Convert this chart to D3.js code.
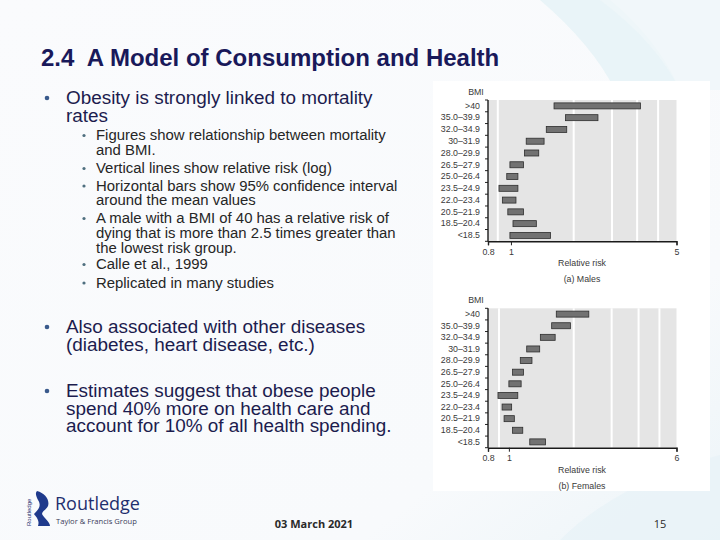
<!DOCTYPE html>
<html>
<head>
<meta charset="utf-8">
<script src="https://cdn.jsdelivr.net/npm/d3@7/dist/d3.min.js"></script>
<style>
  html, body { margin: 0; padding: 0; background: #f8fafc; }
  svg { display: block; }
  text { font-family: "Liberation Sans", Arial, sans-serif; white-space: pre; }
</style>
</head>
<body>
<script>
// ---------- data ----------
const categories = [">40", "35.0–39.9", "32.0–34.9", "30–31.9", "28.0–29.9", "26.5–27.9",
  "25.0–26.4", "23.5–24.9", "22.0–23.4", "20.5–21.9", "18.5–20.4", "<18.5"];
const maleLow  = [1.52, 1.70, 1.41, 1.16, 1.14, 0.99, 0.96, 0.89, 0.92, 0.97, 1.02, 0.99];
const maleHigh = [3.52, 2.33, 1.72, 1.38, 1.31, 1.13, 1.07, 1.07, 1.05, 1.13, 1.28, 1.47];
const femaleLow  = [1.66, 1.58, 1.40, 1.21, 1.13, 1.04, 1.00, 0.89, 0.93, 0.95, 1.04, 1.25];
const femaleHigh = [2.35, 1.93, 1.64, 1.39, 1.28, 1.17, 1.14, 1.10, 1.03, 1.06, 1.16, 1.48];
const maleTicks = [0.8, 1, 5];
const femaleTicks = [0.8, 1, 6];
const maleGrid = [0.88, 1.84, 2.67, 3.41, 4.18];
const femaleGrid = [0.9, 2, 3, 4, 5];
const maleDomain = [0.8, 5];
const femaleDomain = [0.8, 6];

const title = "2.4  A Model of Consumption and Health";
const subBullets = [
  ["Figures show relationship between mortality", "and BMI."],
  ["Vertical lines show relative risk (log)"],
  ["Horizontal bars show 95% confidence interval", "around the mean values"],
  ["A male with a BMI of 40 has a relative risk of", "dying that is more than 2.5 times greater than", "the lowest risk group."],
  ["Calle et al., 1999"],
  ["Replicated in many studies"]
];

// ---------- svg ----------
const W = 720, H = 540;
const svg = d3.select("body").append("svg").attr("width", W).attr("height", H);

const defs = svg.append("defs");
const bg = defs.append("linearGradient").attr("id", "bg").attr("x1", 0).attr("y1", 0).attr("x2", 1).attr("y2", 1);
bg.append("stop").attr("offset", "0%").attr("stop-color", "#fafbfd");
bg.append("stop").attr("offset", "75%").attr("stop-color", "#f8fafc");
bg.append("stop").attr("offset", "100%").attr("stop-color", "#ecf4f8");
svg.append("rect").attr("width", W).attr("height", H).attr("fill", "url(#bg)");

// faint swooshes
svg.append("path").attr("d", "M540,0 C575,30 600,60 615,90 L680,90 C665,55 640,25 610,0 Z")
  .attr("fill", "#e5f2f6").attr("opacity", 0.8);
svg.append("path").attr("d", "M600,0 C640,30 665,60 680,90 L720,90 L720,0 Z")
  .attr("fill", "#eff6f9").attr("opacity", 0.8);
svg.append("path").attr("d", "M560,540 C600,500 660,470 720,455 L720,540 Z")
  .attr("fill", "#e8f3f7").attr("opacity", 0.8);

// ---------- title & text ----------
svg.append("text").attr("x", 41).attr("y", 66).text(title)
  .attr("font-size", 24).attr("font-weight", "bold").attr("fill", "#19195a");

function block(x, y, lines, lh, size, fill) {
  const t = svg.append("text").attr("x", x).attr("y", y).attr("font-size", size).attr("fill", fill);
  lines.forEach((l, i) => t.append("tspan").attr("x", x).attr("y", y + i * lh).text(l));
}

function mainBullet(y, lines) {
  svg.append("circle").attr("cx", 47).attr("cy", y - 6).attr("r", 2.3).attr("fill", "#3a5a8c");
  block(66, y, lines, 17.6, 18.9, "#1c1c4e");
}
mainBullet(104, ["Obesity is strongly linked to mortality", "rates"]);
mainBullet(333, ["Also associated with other diseases", "(diabetes, heart disease, etc.)"]);
mainBullet(397, ["Estimates suggest that obese people", "spend 40% more on health care and", "account for 10% of all health spending."]);

const subY = [140, 173, 190.5, 223, 269, 287.5];
subBullets.forEach((lines, k) => {
  svg.append("circle").attr("cx", 84).attr("cy", subY[k] - 4.5).attr("r", 1.6).attr("fill", "#4f6f7f");
  block(96, subY[k], lines, 14.8, 14.9, "#262626");
});

// ---------- footer ----------
svg.append("text").attr("x", 314).attr("y", 528).attr("text-anchor", "middle").text("03 March 2021")
  .attr("font-size", 11).attr("font-weight", "bold").attr("fill", "#2a2a2a")
  .style("font-family", "'Open Sans', 'Liberation Sans', sans-serif");
svg.append("text").attr("x", 660).attr("y", 528).attr("text-anchor", "middle").text("15")
  .attr("font-size", 11).attr("fill", "#2a2a2a")
  .style("font-family", "'Open Sans', 'Liberation Sans', sans-serif");

// logo
const logo = svg.append("g");
logo.append("path").attr("d", "M37,491 C45,493 50,500 48,506 C46,510 42,511 42,514 C44,518 50,522 50,526 L38,526 C40,520 36,517 34,514 C38,510 42,506 38,500 C36,496 35,493 37,491 Z")
  .attr("fill", "#1f3a8c");
logo.append("text").attr("transform", "translate(31,526) rotate(-90)").text("Routledge")
  .attr("font-size", 6).attr("fill", "#1f2f6f");
logo.append("text").attr("x", 55).attr("y", 510).text("Routledge")
  .attr("font-size", 18).attr("fill", "#1f2f6e")
  .style("font-family", "'Open Sans', 'Liberation Sans', sans-serif");
logo.append("text").attr("x", 56).attr("y", 524).text("Taylor & Francis Group")
  .attr("font-size", 7.6).attr("fill", "#3a3a5a")
  .style("font-family", "'Open Sans', 'Liberation Sans', sans-serif");

// ---------- chart panel ----------
svg.append("rect").attr("x", 433).attr("y", 81).attr("width", 277).attr("height", 410).attr("fill", "#ffffff");

function drawPanel(opts) {
  const g = svg.append("g");
  const x = d3.scaleLog().domain(opts.domain).range([488, 676.5]);
  const y = d3.scaleBand().domain(categories).range([opts.top, opts.bottom]);
  const data = categories.map((c, i) => ({ c, lo: opts.low[i], hi: opts.high[i] }));

  g.append("rect").attr("x", x.range()[0]).attr("y", opts.top)
    .attr("width", x.range()[1] - x.range()[0]).attr("height", opts.bottom - opts.top)
    .attr("fill", "#e5e5e5");

  g.selectAll(".grid").data(opts.grid).join("line")
    .attr("x1", d => x(d)).attr("x2", d => x(d))
    .attr("y1", opts.top).attr("y2", opts.bottom)
    .attr("stroke", "#ffffff").attr("stroke-width", 2);

  g.selectAll(".bar").data(data).join("rect")
    .attr("x", d => x(d.lo)).attr("width", d => x(d.hi) - x(d.lo))
    .attr("y", d => y(d.c) + y.bandwidth() / 2 - 3).attr("height", 6)
    .attr("fill", "#727272").attr("stroke", "#2e2e2e").attr("stroke-width", 0.8);

  // left axis: labels
  const yAxis = g.append("g").attr("transform", `translate(${x.range()[0]},0)`)
    .call(d3.axisLeft(y).tickSize(0).tickPadding(8));
  yAxis.select(".domain").remove();
  yAxis.selectAll("text").attr("font-size", 8.8).attr("fill", "#3a3a3a")
    .style("font-family", "'Liberation Sans', Arial, sans-serif");
  // boundary ticks
  const bounds = categories.map(c => y(c)).concat([opts.bottom]);
  g.selectAll(".bt").data(bounds).join("line")
    .attr("x1", x.range()[0] - 3).attr("x2", x.range()[0])
    .attr("y1", d => d).attr("y2", d => d).attr("stroke", "#222").attr("stroke-width", 1);
  g.append("line").attr("x1", x.range()[0]).attr("x2", x.range()[0])
    .attr("y1", opts.top).attr("y2", opts.bottom).attr("stroke", "#1a1a1a").attr("stroke-width", 1.4);

  // bottom axis
  const xAxis = g.append("g").attr("transform", `translate(0,${opts.bottom})`)
    .call(d3.axisBottom(x).tickValues(opts.ticks).tickFormat(d3.format("")).tickSize(4).tickPadding(3));
  xAxis.select(".domain").attr("stroke", "#1a1a1a").attr("stroke-width", 1.4);
  xAxis.selectAll("line").attr("stroke", "#222");
  xAxis.selectAll("text").attr("font-size", 8.8).attr("fill", "#3a3a3a")
    .style("font-family", "'Liberation Sans', Arial, sans-serif");

  g.append("text").attr("x", 476).attr("y", opts.top - 5).attr("text-anchor", "middle").text("BMI")
    .attr("font-size", 8.8).attr("fill", "#3a3a3a");
  g.append("text").attr("x", 582).attr("y", opts.bottom + 25).attr("text-anchor", "middle").text("Relative risk")
    .attr("font-size", 8.8).attr("fill", "#3a3a3a");
  g.append("text").attr("x", 582).attr("y", opts.bottom + 41).attr("text-anchor", "middle").text(opts.caption)
    .attr("font-size", 8.8).attr("fill", "#3a3a3a");
}

drawPanel({ domain: maleDomain, top: 100, bottom: 241.3, low: maleLow, high: maleHigh,
  grid: maleGrid, ticks: maleTicks, caption: "(a) Males" });
drawPanel({ domain: femaleDomain, top: 308.3, bottom: 447.7, low: femaleLow, high: femaleHigh,
  grid: femaleGrid, ticks: femaleTicks, caption: "(b) Females" });
</script>
</body>
</html>
